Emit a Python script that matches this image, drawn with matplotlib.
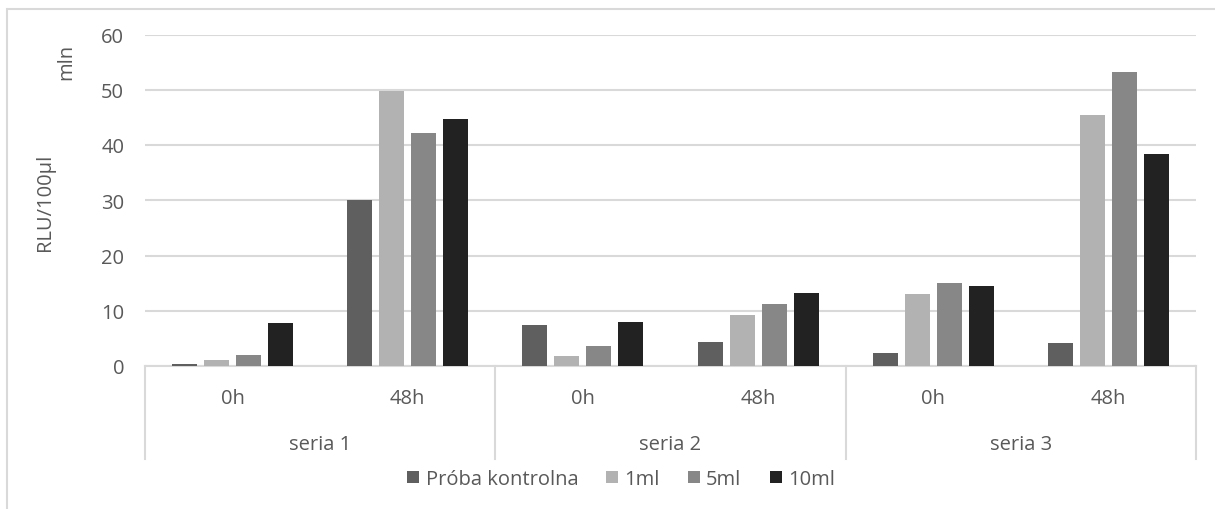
import matplotlib.pyplot as plt
import matplotlib.transforms as mtransforms
from matplotlib.patches import Rectangle

# data (RLU/100ul, mln)
groups = ["seria 1", "seria 2", "seria 3"]
times = ["0h", "48h"]
series = ["Próba kontrolna", "1ml", "5ml", "10ml"]
kontrolna = [0.4, 30.0, 7.5, 4.3, 2.3, 4.2]
ml1 = [1.0, 49.8, 1.9, 9.2, 13.0, 45.5]
ml5 = [2.0, 42.1, 3.6, 11.2, 15.0, 53.3]
ml10 = [7.7, 44.7, 8.0, 13.2, 14.5, 38.3]
values = [kontrolna, ml1, ml5, ml10]
colors = ["#5f5f5f", "#b2b2b2", "#878787", "#222222"]

plt.rcParams['font.family'] = ['Open Sans', 'DejaVu Sans']
txt = "#595959"
grid = "#d9d9d9"
fs = 14.5

W, H = 1215, 510
fig = plt.figure(figsize=(W / 100, H / 100), dpi=100)
ax = fig.add_axes([145 / W, (H - 367) / H, (1196 - 145) / W, (367 - 35.5) / H])

ncat = len(groups) * len(times)
x = list(range(ncat))
width = 25 / 175
step = 32 / 175
for i, (name, vals, c) in enumerate(zip(series, values, colors)):
    off = (i - 1.5) * step
    ax.bar([xi + off for xi in x], vals, width=width, color=c, label=name, zorder=3)

ax.set_xlim(-0.5, ncat - 0.5)
ax.set_ylim(0, 60)
ax.set_yticks(range(0, 61, 10))
ax.yaxis.grid(True, color=grid, linewidth=1.5, zorder=0)
for s in ["top", "right", "left"]:
    ax.spines[s].set_visible(False)
ax.spines["bottom"].set_color(grid)
ax.spines["bottom"].set_linewidth(1.5)
ax.tick_params(axis="y", length=0, pad=15, labelsize=fs, labelcolor=txt)
ax.set_xticks([])

# multi-level category axis
trans = mtransforms.blended_transform_factory(ax.transData, ax.transAxes)
for xb in [-0.5, 1.5, 3.5, 5.5]:
    ax.plot([xb, xb], [0, -0.2805], transform=trans, color=grid, lw=1.5, clip_on=False)
for i in range(ncat):
    ax.text(i, -0.096, times[i % 2], transform=trans, ha="center", va="center",
            fontsize=fs, color=txt)
for g, name in enumerate(groups):
    ax.text(2 * g + 0.5, -0.235, name, transform=trans, ha="center", va="center",
            fontsize=fs, color=txt)

fig.text(45 / W, 1 - 202 / H, "RLU/100µl", rotation=90, ha="center", va="center",
         fontsize=fs, color=txt)
fig.text(66 / W, 1 - 62 / H, "mln", rotation=90, ha="center", va="center",
         fontsize=fs, color=txt)

fig.legend(loc="center", bbox_to_anchor=(621 / W, 1 - 480 / H), ncol=4, frameon=False,
           fontsize=fs, labelcolor=txt, handlelength=0.6, handleheight=0.6,
           handletextpad=0.3, columnspacing=1.4)

fig.patches.append(Rectangle((7 / W, -0.1), 1.2, 1 - 10 / H + 0.1, transform=fig.transFigure,
                             fill=False, edgecolor=grid, linewidth=1.5))

fig.savefig("out.png", dpi=100)
